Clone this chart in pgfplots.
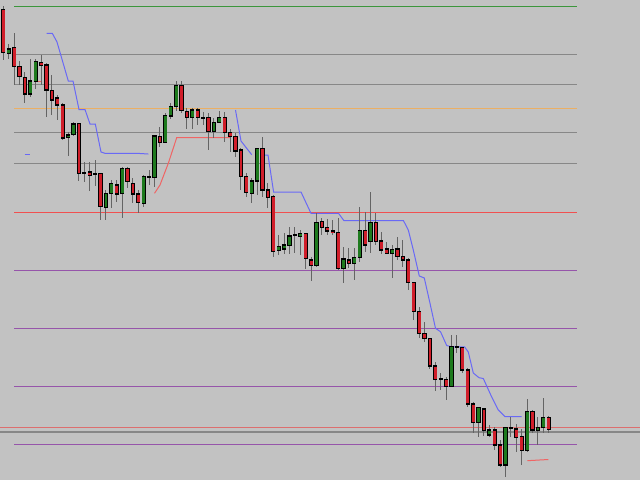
\documentclass[border=0pt]{standalone}
\usepackage{pgfplots}
\usepackage{pgfplotstable}
\pgfplotsset{compat=1.18}

\definecolor{bg}{RGB}{194,194,194}
\definecolor{wickc}{RGB}{100,100,100}
\definecolor{bearc}{RGB}{208,30,42}
\definecolor{bullc}{RGB}{30,122,30}
\definecolor{lvgreen}{RGB}{60,150,60}
\definecolor{lvgray}{RGB}{135,135,135}
\definecolor{lvorange}{RGB}{235,175,100}
\definecolor{lvred}{RGB}{240,80,80}
\definecolor{lvpurple}{RGB}{150,85,170}
\definecolor{lvred2}{RGB}{220,110,110}
\definecolor{trailblue}{RGB}{105,105,245}
\definecolor{trailred}{RGB}{240,100,100}

% candles: bar index, open, high, low, close (screen rows, 0 = top)
\pgfplotstableread{
i   o     h     l     c
1   53.5  44    59    49
5   94    59.3  96.7  81
6   81.5  59.3  89.3  61.7
12  137.7 131.7 156   135
13  134.5 121.7 135.5 124
19  207.3 190   220   193.3
20  193.3 180   208.3 183.3
22  193.3 166.7 218.3 168.3
26  203.3 175   206.7 176.7
28  177.3 135   186.7 136
30  142.7 113.3 143.3 115.7
31  116   103.3 119   106.5
32  106.7 80.5  111   85.7
35  117.7 108.3 129   110
39  131.7 118.3 138.3 122.7
40  122.7 110.7 123.3 117.7
46  193.3 178.3 203.3 181
47  181   148.3 195   148.3
51  250.7 235   255   246.7
52  249   233.3 254   245
53  245.7 226.7 254   236
55  236   230   255   233.3
58  265.7 213.3 266.7 222.3
63  268.3 246.7 283.3 259
65  263.3 248.3 280   257.3
66  257.3 206.7 261.7 230.7
68  241.7 191.7 253.3 222.7
72  253.3 245   278.3 249.3
83  386.7 335   386.7 346.7
88  422.7 406.7 436.7 407.7
90  435   425   436.7 430
93  465   427.3 476.7 427.3
97  450.7 399.3 451.7 411.7
99  430.7 417.3 445   427.3
100 427.3 398.3 433.3 417.3
}\bull

\pgfplotstableread{
i   o     h     l     c
0   9.5   6     60    52.5
2   47.7  32.7  85    66.7
3   66.7  60.7  85    76.7
4   77.3  71.7  102.7 94
7   62.7  55    85    65.3
8   65    62.7  117   90
9   90.7  75    114.5 100
10  98    95    120   105
11  105   103   140   138
14  123.3 123.3 180.7 173.3
15  172.3 161.7 182   172.8
16  172   162   190.7 175
17  173.5 160   186   174.3
18  173.3 173.3 220   206.7
21  185   180   201.7 194
23  168.3 166.7 188.3 181.7
24  183.3 178.3 203.3 194
25  194   190   213.3 202.7
27  177   170   185   177.5
29  136.7 126.7 147   142.7
33  85.5  80.5  113.3 110.5
34  111.7 108   129   117.7
36  110   108.3 125   117.7
37  117.3 111.7 125   118
38  117.7 113.3 150   131.7
41  117.7 111.7 141.7 132.3
42  132.7 129.3 151.7 136.7
43  136.7 133.3 157.3 151
44  150   148.3 190   176.7
45  176.7 173.3 196.7 192.7
48  148.3 136.7 196.7 190
49  190   183.3 208.3 197.3
50  196.7 195   256.7 251.7
54  234.8 226.7 253.3 235.3
56  233.3 233.3 269.3 258.3
57  260   256.7 281   265.7
59  221.7 218.3 235   227.7
60  227.7 219.3 235   231
61  231   220   235   232.3
62  232.3 218.3 270   268.3
64  260   248.3 268.3 263.3
67  230.7 211.7 251.7 245
69  222.7 213.3 245   241.7
70  241   231.7 254   250
71  249   241.7 254   253.3
73  249   236.7 260   256.7
74  256.7 240   266.7 260
75  260   258.3 290   282.7
76  282.7 281.7 320   311.7
77  311.7 306.7 338.3 333.3
78  333.3 321.7 341.7 338.3
79  338.3 338.3 369.3 366
80  366   361.7 390.7 379.3
81  379   373.3 390   379.5
82  379.3 376.7 400   386.7
84  346.8 335   353.3 347.3
85  347.3 347.3 373.3 370
86  370   368.3 406.7 404
87  404   401.7 433.3 422.7
89  409   407.7 436   430.7
91  430   426.7 450   445
92  445   440   466.7 465
94  427.5 416.7 436.7 428
95  429   424   451.7 437.3
96  436.7 429   465   450.7
98  411.7 410   433.3 430
101 417.3 416   433.3 429.3
}\bear

\pgfplotsset{
  candle/.style={draw=none, no markers, forget plot,
    error bars/y dir=both, error bars/y explicit, error bars/error mark=none},
  wick/.style={candle, error bars/error bar style={solid, line cap=butt, draw=wickc, line width=0.75pt}},
  rim/.style={candle, error bars/error bar style={solid, line cap=butt, draw=black, line width=3.2pt}},
  body/.style={candle, error bars/error bar style={solid, line cap=butt, draw=#1, line width=2.1pt}},
  level/.style={forget plot, line width=0.75pt, #1},
}

\begin{document}
\begin{tikzpicture}
\begin{axis}[
  scale only axis, width=480pt, height=360pt,
  xmin=0, xmax=640, ymin=0, ymax=480, y dir=reverse,
  axis line style={draw=none}, ticks=none,
  axis background/.style={fill=bg},
]
% horizontal levels
\addplot[level=lvgreen] coordinates {(14,6) (577,6)};
\addplot[level=lvgray] coordinates {(14,54) (577,54)};
\addplot[level=lvgray] coordinates {(14,84.3) (577,84.3)};
\addplot[level=lvorange] coordinates {(14,108.3) (577,108.3)};
\addplot[level=lvgray] coordinates {(14,132.7) (577,132.7)};
\addplot[level=lvgray] coordinates {(14,163.3) (577,163.3)};
\addplot[level=lvred] coordinates {(14,212) (577,212)};
\addplot[level=lvpurple] coordinates {(14,270) (577,270)};
\addplot[level=lvpurple] coordinates {(14,328.3) (577,328.3)};
\addplot[level=lvpurple] coordinates {(14,386.7) (577,386.7)};
\addplot[level=lvpurple] coordinates {(14,444.3) (577,444.3)};
\addplot[level=lvred2] coordinates {(0,427) (640,427)};
\addplot[level=lvgray, line width=1.5pt] coordinates {(0,432.3) (640,432.3)};

% trailing stop lines
\addplot[level=trailblue] coordinates {
  (46.7,33.3) (52.3,33.3) (57,42) (68.3,81) (73,81) (79,109.5) (85,109.5)
  (90,124) (95.3,124) (101,152) (105,153.3) (136.7,153.3) (148.3,154)};
\addplot[level=trailblue] coordinates {(235.5,110) (241,141) (251.7,154.7)};
\addplot[level=trailblue] coordinates {
  (263,155) (268,155) (273.6,192) (301,192) (311,213.3) (338.5,213.3)
  (344,220.7) (403.5,220.7) (408.3,230) (413.3,250) (419.3,276) (424.3,278)
  (430,303.3) (435.5,328.3) (440.5,331.7) (446.7,345.5) (451.7,346.8)
  (464.5,346.8) (468.3,352) (473.3,373) (479,377.7) (483.3,378.5)
  (491.7,397) (498.3,410) (505,416.7) (521.7,416.7)};
\addplot[level=trailblue] coordinates {(24.5,154) (30.3,154)};
\addplot[level=trailred] coordinates {
  (154.5,193.3) (160,185) (168.3,163.3) (176.7,137.7) (230,137.7)};
\addplot[level=trailred] coordinates {(35.7,81.5) (41.7,81.5)};
\addplot[level=trailred] coordinates {(527.3,460.7) (548.3,459.5)};

% wicks
\addplot[wick] table[x expr=3.3+5.4*\thisrow{i}, y expr=0.5*(\thisrow{h}+\thisrow{l}),
  y error expr=0.5*(\thisrow{l}-\thisrow{h})] \bull;
\addplot[wick] table[x expr=3.3+5.4*\thisrow{i}, y expr=0.5*(\thisrow{h}+\thisrow{l}),
  y error expr=0.5*(\thisrow{l}-\thisrow{h})] \bear;
% body outlines
\addplot[rim] table[x expr=3.3+5.4*\thisrow{i}, y expr=0.5*(\thisrow{o}+\thisrow{c}),
  y error expr=0.5*abs(\thisrow{o}-\thisrow{c})+0.6] \bull;
\addplot[rim] table[x expr=3.3+5.4*\thisrow{i}, y expr=0.5*(\thisrow{o}+\thisrow{c}),
  y error expr=0.5*abs(\thisrow{o}-\thisrow{c})+0.6] \bear;
% body fills
\addplot[body=bullc] table[x expr=3.3+5.4*\thisrow{i}, y expr=0.5*(\thisrow{o}+\thisrow{c}),
  y error expr={max(0.5*abs(\thisrow{o}-\thisrow{c})-0.6,0)}] \bull;
\addplot[body=bearc] table[x expr=3.3+5.4*\thisrow{i}, y expr=0.5*(\thisrow{o}+\thisrow{c}),
  y error expr={max(0.5*abs(\thisrow{o}-\thisrow{c})-0.6,0)}] \bear;
\end{axis}
\end{tikzpicture}
\end{document}
